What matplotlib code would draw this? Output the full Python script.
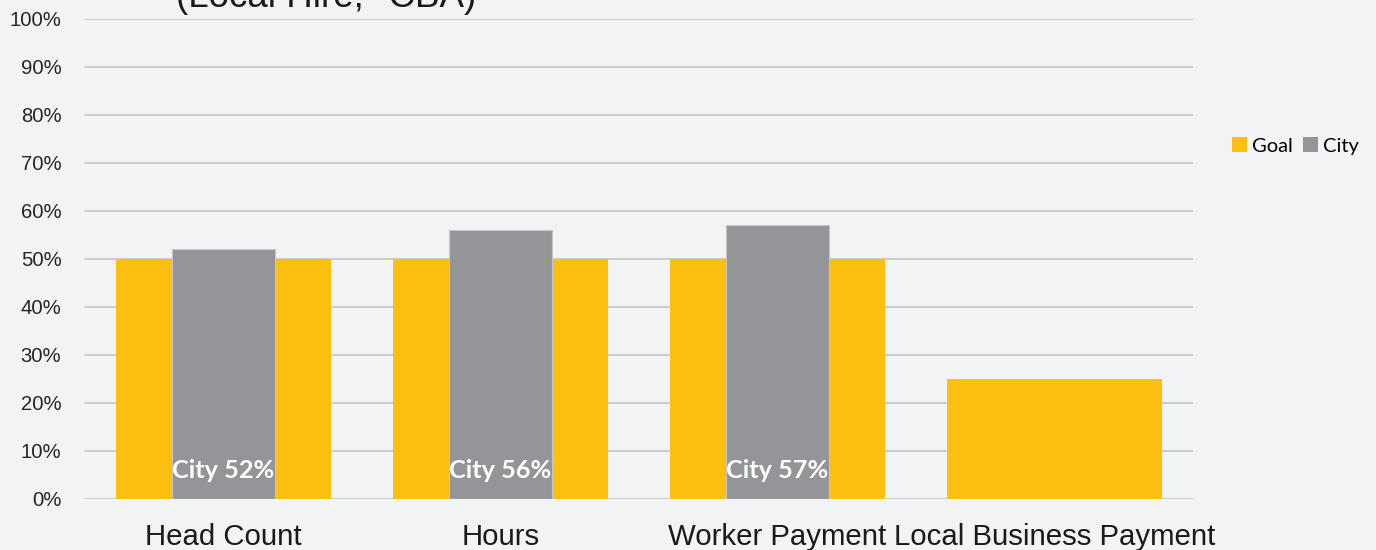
import numpy as np
import matplotlib
matplotlib.use("Agg")
import matplotlib.pyplot as plt
from matplotlib.patches import Patch

categories = ["Head Count", "Hours", "Worker Payment", "Local Business Payment"]
goal = [50, 50, 50, 25]
city = [52, 56, 57, np.nan]
city_labels = ["City 52%", "City 56%", "City 57%", ""]
yticks = [0, 10, 20, 30, 40, 50, 60, 70, 80, 90, 100]
title = "(Local Hire, *CBA)"

BG = "#f2f3f5"
YEL = "#fdc010"
GRY = "#939598"

fig = plt.figure(figsize=(13.76, 5.5), dpi=100, facecolor=BG)
ax = fig.add_axes([85/1376, 1-499/550, (1193-85)/1376, (499-19)/550])
ax.set_facecolor(BG)

x = np.arange(len(categories))
ax.bar(x, goal, width=0.773, color=YEL, zorder=2)
ax.bar(x, city, width=0.372, color=GRY, edgecolor="#c4c5c7", linewidth=0.8, zorder=3)

for xi, lab in zip(x, city_labels):
    if lab:
        ax.text(xi, 6.0, lab, ha="center", va="center", color="white",
                fontsize=18.2, fontweight="bold", family=["Lato", "DejaVu Sans"], zorder=4)

ax.set_xlim(-0.5, len(categories) - 0.5)
ax.set_ylim(0, 100)
ax.set_yticks(yticks)
ax.set_yticklabels([f"{v}%" for v in yticks], family="Liberation Sans", fontsize=14.6, color="#262626")
ax.set_xticks(x)
ax.set_xticklabels(categories, family="Liberation Sans", fontsize=21.2, color="#1a1a1a")
ax.tick_params(axis="y", length=0, pad=17)
ax.tick_params(axis="x", length=0, pad=17)
ax.grid(axis="y", color="#c9c9c9", linewidth=1.3, zorder=0)
ax.set_axisbelow(True)
for s in ax.spines.values():
    s.set_visible(False)

handles = [Patch(facecolor=YEL, label="Goal"), Patch(facecolor=GRY, label="City")]
fig.legend(handles=handles, loc="center left", bbox_to_anchor=(1214/1376, 1-146/550),
           ncol=2, frameon=False, handlelength=0.75, handleheight=0.75, handletextpad=0.25,
           columnspacing=0.5, prop={"family": "Lato", "size": 14.5})

fig.text(326/1376, 1-7/550, title, ha="center", va="baseline", family="Liberation Sans",
         fontsize=26.5, color="#1a1a1a")

fig.savefig("out.png", dpi=100, facecolor=BG)
